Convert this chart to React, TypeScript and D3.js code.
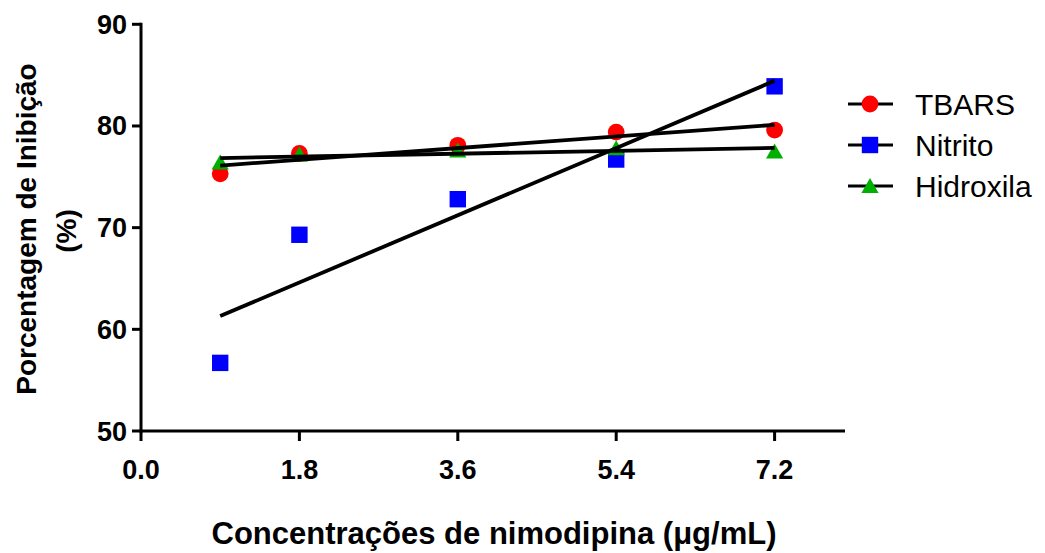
import React from "react";
import * as d3 from "d3";

const concentrations = [0.9, 1.8, 3.6, 5.4, 7.2];
const tbars = [75.3, 77.3, 78.1, 79.4, 79.6];
const nitrito = [56.7, 69.3, 72.8, 76.7, 83.9];
const hidroxila = [76.4, 77.2, 77.6, 77.8, 77.5];
const seriesNames = ["TBARS", "Nitrito", "Hidroxila"];
const xTicks = [0, 1.8, 3.6, 5.4, 7.2];
const yTicks = [50, 60, 70, 80, 90];

const W = 1045;
const H = 553;
const x = d3.scaleLinear().domain([0, 8]).range([141, 845]);
const y = d3.scaleLinear().domain([50, 90]).range([431, 24.3]);

function fit(xs: number[], ys: number[]) {
  const mx = d3.mean(xs)!;
  const my = d3.mean(ys)!;
  let sxy = 0, sxx = 0;
  xs.forEach((v, i) => { sxy += (v - mx) * (ys[i] - my); sxx += (v - mx) * (v - mx); });
  const b = sxy / sxx;
  const a = my - b * mx;
  const x0 = d3.min(xs)!, x1 = d3.max(xs)!;
  return [[x0, a + b * x0], [x1, a + b * x1]] as [number, number][];
}

const FONT = "'Liberation Sans', Arial, sans-serif";

function Marker({ kind, cx, cy }: { kind: number; cx: number; cy: number }) {
  if (kind === 0) return <circle cx={cx} cy={cy} r={8.4} fill="#ff0000" />;
  if (kind === 1) return <rect x={cx - 8.2} y={cy - 8.2} width={16.4} height={16.4} fill="#0000ff" />;
  return <path d={`M${cx},${cy - 8} L${cx + 8.6},${cy + 7} L${cx - 8.6},${cy + 7} Z`} fill="#00b000" />;
}

export default function App() {
  const data = [tbars, nitrito, hidroxila];
  const line = d3.line<[number, number]>().x(d => x(d[0])).y(d => y(d[1]));
  const legendY = [104, 145, 186];
  return (
    <svg width={W} height={H} style={{ position: "absolute", left: 0, top: 0, background: "#fff" }} fontFamily={FONT}>
      <rect width={W} height={H} fill="#fff" />
      {/* axes */}
      <line x1={x(0)} x2={x(0)} y1={y(90) - 1.5} y2={y(50) + 1.5} stroke="#000" strokeWidth={3} />
      <line x1={x(0) - 1.5} x2={x(8)} y1={y(50)} y2={y(50)} stroke="#000" strokeWidth={3} />
      {yTicks.map(t => (
        <g key={"y" + t}>
          <line x1={x(0) - 9} x2={x(0)} y1={y(t)} y2={y(t)} stroke="#000" strokeWidth={3} />
          <text x={127} y={y(t) + 9.5} textAnchor="end" fontSize={27} fontWeight="bold">{t}</text>
        </g>
      ))}
      {xTicks.map(t => (
        <g key={"x" + t}>
          <line x1={x(t)} x2={x(t)} y1={y(50)} y2={y(50) + 10} stroke="#000" strokeWidth={3} />
          <text x={x(t)} y={479} textAnchor="middle" fontSize={27} fontWeight="bold">{t.toFixed(1)}</text>
        </g>
      ))}
      {/* titles */}
      <text transform="translate(36,229) rotate(-90)" textAnchor="middle" fontSize={28} fontWeight="bold">Porcentagem de Inibição</text>
      <text transform="translate(76,231) rotate(-90)" textAnchor="middle" fontSize={28} fontWeight="bold">(%)</text>
      <text x={494} y={544} textAnchor="middle" fontSize={31} fontWeight="bold">Concentrações de nimodipina (μg/mL)</text>
      {/* points */}
      {data.map((s, si) => (
        <g key={"p" + si}>
          {s.map((v, i) => <Marker key={i} kind={si} cx={x(concentrations[i])} cy={y(v)} />)}
        </g>
      ))}
      {/* regression lines */}
      {data.map((s, si) => (
        <path key={"l" + si} d={line(fit(concentrations, s)) || ""} fill="none" stroke="#000" strokeWidth={3.8} />
      ))}
      {/* legend */}
      {seriesNames.map((n, i) => (
        <g key={n}>
          <line x1={848} x2={893} y1={legendY[i]} y2={legendY[i]} stroke="#000" strokeWidth={3} />
          <Marker kind={i} cx={870} cy={legendY[i]} />
          <text x={915} y={legendY[i] + 11} fontSize={30}>{n}</text>
        </g>
      ))}
    </svg>
  );
}
